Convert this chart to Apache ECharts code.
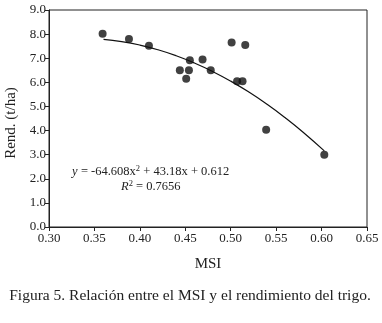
<!DOCTYPE html>
<html><head><meta charset="utf-8">
<script src="https://cdn.jsdelivr.net/npm/echarts@6/dist/echarts.min.js"></script>
<style>html,body{margin:0;padding:0;background:#fff}#c{width:382px;height:323px}</style>
</head><body><div id="c"></div>
<script>
var msi = [0.359, 0.388, 0.410, 0.444, 0.451, 0.454, 0.455, 0.469, 0.478, 0.501, 0.507, 0.513, 0.516, 0.539, 0.603];
var rend = [8.02, 7.80, 7.52, 6.50, 6.15, 6.50, 6.92, 6.95, 6.50, 7.65, 6.05, 6.05, 7.55, 4.03, 3.00];
var xTicks = ['0.30','0.35','0.40','0.45','0.50','0.55','0.60','0.65'];
var yTicks = ['0.0','1.0','2.0','3.0','4.0','5.0','6.0','7.0','8.0','9.0'];
// trendline from the equation printed on the chart
var coefA = -64.608, coefB = 43.18, coefC = 0.612;
var trendX = [0.36,0.38,0.40,0.42,0.44,0.46,0.48,0.50,0.52,0.54,0.56,0.58,0.603];
var trend = trendX.map(function(x){return [x, coefA*x*x + coefB*x + coefC];});
var pts = msi.map(function(x,i){return [x, rend[i]];});
var serif = 'Liberation Serif';
var chart = echarts.init(document.getElementById('c'));
chart.setOption({
  animation:false,
  grid:{left:49,top:10,right:15,bottom:96,show:true,borderColor:'#222',borderWidth:1},
  xAxis:{type:'value',min:0.30,max:0.65,interval:0.05,
    axisLine:{show:true,lineStyle:{color:'#222'}},
    axisTick:{show:true,length:4,lineStyle:{color:'#222'}},
    splitLine:{show:false},
    axisLabel:{fontFamily:serif,fontSize:13,color:'#222',margin:5,formatter:function(v){return xTicks[Math.round((v-0.30)/0.05)];}}},
  yAxis:{type:'value',min:0,max:9,interval:1,
    axisLine:{show:true,lineStyle:{color:'#222'}},
    axisTick:{show:true,length:4,lineStyle:{color:'#222'}},
    splitLine:{show:false},
    axisLabel:{fontFamily:serif,fontSize:13,color:'#222',margin:3,formatter:function(v){return yTicks[Math.round(v)];}}},
  series:[
    {type:'line',data:trend,smooth:true,showSymbol:false,lineStyle:{color:'#111',width:1.2},z:1},
    {type:'scatter',data:pts,symbolSize:8,itemStyle:{color:'#111'},z:2}
  ],
  graphic:[
    {type:'text',x:11,y:123,rotation:Math.PI/2,style:{text:'Rend. (t/ha)',fontFamily:serif,fontSize:15,fill:'#222',align:'center',verticalAlign:'middle'}},
    {type:'text',x:208,y:264,style:{text:'MSI',fontFamily:serif,fontSize:15,fill:'#222',align:'center',verticalAlign:'middle'}},
    {type:'text',x:190,y:296,style:{text:'Figura 5. Relación entre el MSI y el rendimiento del trigo.',fontFamily:serif,fontSize:15.5,fill:'#222',align:'center',verticalAlign:'middle'}},
    {type:'text',x:72,y:172,style:{rich:{i:{fontFamily:serif,fontStyle:'italic',fontSize:12.5,fill:'#222'},n:{fontFamily:serif,fontSize:12.5,fill:'#222'},s:{fontFamily:serif,fontSize:8.5,fill:'#222',padding:[0,0,6,0]}},text:'{i|y} {n|= -64.608x}{s|2}{n| + 43.18x + 0.612}',verticalAlign:'middle'}},
    {type:'text',x:121,y:187,style:{rich:{i:{fontFamily:serif,fontStyle:'italic',fontSize:12.5,fill:'#222'},n:{fontFamily:serif,fontSize:12.5,fill:'#222'},s:{fontFamily:serif,fontSize:8.5,fill:'#222',padding:[0,0,6,0]}},text:'{i|R}{s|2}{n| = 0.7656}',verticalAlign:'middle'}}
  ]
});
</script></body></html>
